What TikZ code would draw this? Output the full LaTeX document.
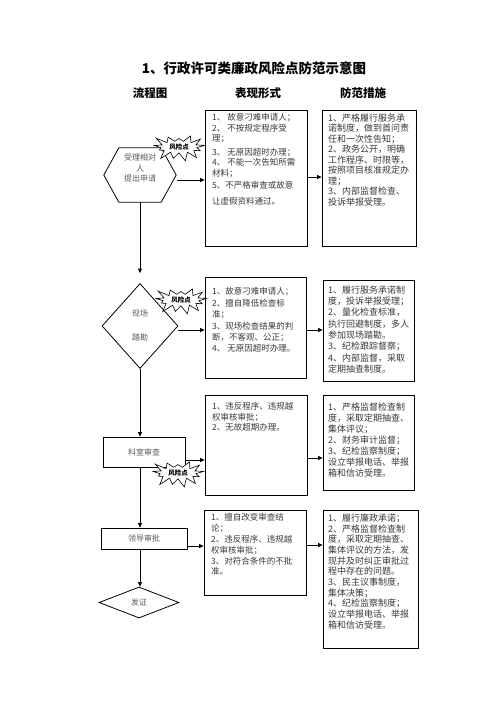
\documentclass[tikz,border=0pt]{standalone}
\usepackage{fontspec}
\setmainfont{Noto Sans CJK SC}
\usetikzlibrary{arrows.meta,shapes.symbols,shapes.geometric,calc}

\begin{document}
\begin{tikzpicture}[x=1pt,y=-1pt,
  box/.style={draw, line width=0.8pt, inner sep=0pt},
  flowtxt/.style={text=black!65, font=\fontsize{8}{10.5}\selectfont, align=center},
  arr/.style={-{Triangle[length=4.5pt,width=4pt]}, line width=0.8pt},
  mtxt/.style={anchor=north west, align=left, inner sep=0pt, text=black!78},
  risk/.style={starburst, starburst points=13, starburst point height=10pt, random starburst=23, draw, fill=white, line width=0.6pt, inner xsep=3pt, inner ysep=1pt, font=\fontsize{6.5}{7}\bfseries\selectfont},
  hdr/.style={font=\fontsize{11.5}{13}\bfseries\selectfont},
]
\useasboundingbox (0,0) rectangle (496,702);

% title and headers
\node[font=\fontsize{13.5}{15}\bfseries\selectfont] (title) at (254,68) {1、行政许可类廉政风险点防范示意图};
\node[hdr] (h1) at (150,93) {流程图};
\node[hdr] (h2) at (258,93) {表现形式};
\node[hdr] (h3) at (363,93) {防范措施};

% boxes
\node[box, minimum width=102pt, minimum height=136pt] (b1) at (256,178) {};
\node[box, minimum width=94pt, minimum height=136pt] (b2) at (369,178) {};
\node[box, minimum width=101pt, minimum height=101pt] (b3) at (255.5,327.5) {};
\node[box, minimum width=91pt, minimum height=101pt] (b4) at (368.5,330.5) {};
\node[box, minimum width=102pt, minimum height=100pt] (b5) at (256,445) {};
\node[box, minimum width=91pt, minimum height=95pt] (b6) at (368.5,442.5) {};
\node[box, minimum width=102pt, minimum height=85pt] (b7) at (255,552.5) {};
\node[box, minimum width=95pt, minimum height=138pt] (b8) at (370.5,579) {};

% box texts
\node[mtxt, font=\fontsize{8.5}{10.5}\selectfont] (t1) at (212,113.5) {1、 故意刁难申请人；\\2、 不按规定程序受\\理；\\[3pt]3、 无原因超时办理；\\4、 不能一次告知所需\\材料；\\[2pt]5、不严格审查或故意\\[5pt]让虚假资料通过。};
\node[mtxt, font=\fontsize{9}{10.5}\selectfont] (t2) at (328,113.5) {1、严格履行服务承\\诺制度，做到首问责\\任和一次性告知；\\2、政务公开，明确\\工作程序、时限等，\\按照项目核准规定办\\理；\\3、内部监督检查、\\投诉举报受理。};
\node[mtxt, font=\fontsize{8.5}{11.4}\selectfont] (t3) at (212,287.5) {1、故意刁难申请人；\\2、擅自降低检查标\\准；\\3、现场检查结果的判\\断，不客观、公正；\\4、 无原因超时办理。};
\node[mtxt, font=\fontsize{9}{11.3}\selectfont] (t4) at (328,285.5) {1、履行服务承诺制\\度，投诉举报受理；\\2、量化检查标准，\\执行回避制度，多人\\参加现场踏勘。\\3、纪检跟踪督察；\\4、内部监督，采取\\定期抽查制度。};
\node[mtxt, font=\fontsize{8.5}{10.2}\selectfont] (t5) at (212,402.5) {1、违反程序、违规越\\权审核审批；\\2、无故超期办理。};
\node[mtxt, font=\fontsize{9}{11}\selectfont] (t6) at (328,402.5) {1、严格监督检查制\\度，采取定期抽查、\\集体评议；\\2、财务审计监督；\\3、纪检监察制度；\\设立举报电话、举报\\箱和信访受理。};
\node[mtxt, font=\fontsize{8.5}{10.8}\selectfont] (t7) at (211,513.5) {1、擅自改变审查结\\论；\\2、违反程序、违规越\\权审核审批；\\3、对符合条件的不批\\准。};
\node[mtxt, font=\fontsize{9}{10.7}\selectfont] (t8) at (328,513.5) {1、履行廉政承诺；\\2、严格监督检查制\\度，采取定期抽查、\\集体评议的方法，发\\现并及时纠正审批过\\程中存在的问题。\\3、民主议事制度，\\集体决策；\\4、纪检监察制度；\\设立举报电话、举报\\箱和信访受理。};

% flow nodes
\node[minimum width=72pt, minimum height=54pt, inner sep=0pt] (hex) at (140,175) {};
\draw[line width=0.8pt] (hex.west) -- ($(hex.north west)+(15,0)$) -- ($(hex.north east)+(-15,0)$) -- (hex.east) -- ($(hex.south east)+(-15,0)$) -- ($(hex.south west)+(15,0)$) -- cycle;
\node[flowtxt] (hext) at (140,168) {受理相对\\人\\提出申请};

\node[diamond, draw, line width=0.8pt, minimum width=76pt, minimum height=85pt, inner sep=0pt, flowtxt, font=\fontsize{8}{24}\selectfont] (d1) at (140,326) {现场\\踏勘};

\node[box, minimum width=82pt, minimum height=30pt, flowtxt] (r1) at (144,452) {科室审查};
\node[box, minimum width=86pt, minimum height=21pt, flowtxt] (r2) at (144,538.5) {领导审批};
\node[diamond, draw, line width=0.8pt, minimum width=80pt, minimum height=31pt, inner sep=0pt, flowtxt] (d2) at (139,602.5) {发证};

% helper coordinates
\coordinate (vx) at (140,0);
\coordinate (y1) at (0,180);
\coordinate (y1b) at (0,177);
\coordinate (y2) at (0,330);
\coordinate (y3) at (0,460);
\coordinate (y3b) at (0,458);
\coordinate (y4) at (0,546);
\coordinate (y4b) at (0,545);

% vertical connectors
\draw[arr, shorten >=10pt] (hex.south -| vx) -- (d1.north);
\draw[arr] (d1.south) -- (d1.south |- r1.north);
\draw[arr] (vx |- r1.south) -- (vx |- r2.north);
\draw[arr] (vx |- r2.south) -- (vx |- d2.north);

% horizontal connectors
\draw[arr] ($(hex.east |- y1)+(1,0)$) -- (b1.west |- y1);
\draw[arr] (b1.east |- y1b) -- (b2.west |- y1b);
\draw[arr] (d1.east |- y2) -- (b3.west |- y2);
\draw[arr] (b3.east |- y2) -- (b4.west |- y2);
\draw[arr] (r1.east |- y3) -- (b5.west |- y3);
\draw[arr] (b5.east |- y3b) -- (b6.west |- y3b);
\draw[arr] (r2.east |- y4) -- (b7.west |- y4);
\draw[arr] (b7.east |- y4b) -- (b8.west |- y4b);

% risk points
\node[risk] (s1) at (179,147) {风险点};
\node[risk] (s2) at (181,300) {风险点};
\node[risk] (s3) at (178,473) {风险点};
\end{tikzpicture}
\end{document}
